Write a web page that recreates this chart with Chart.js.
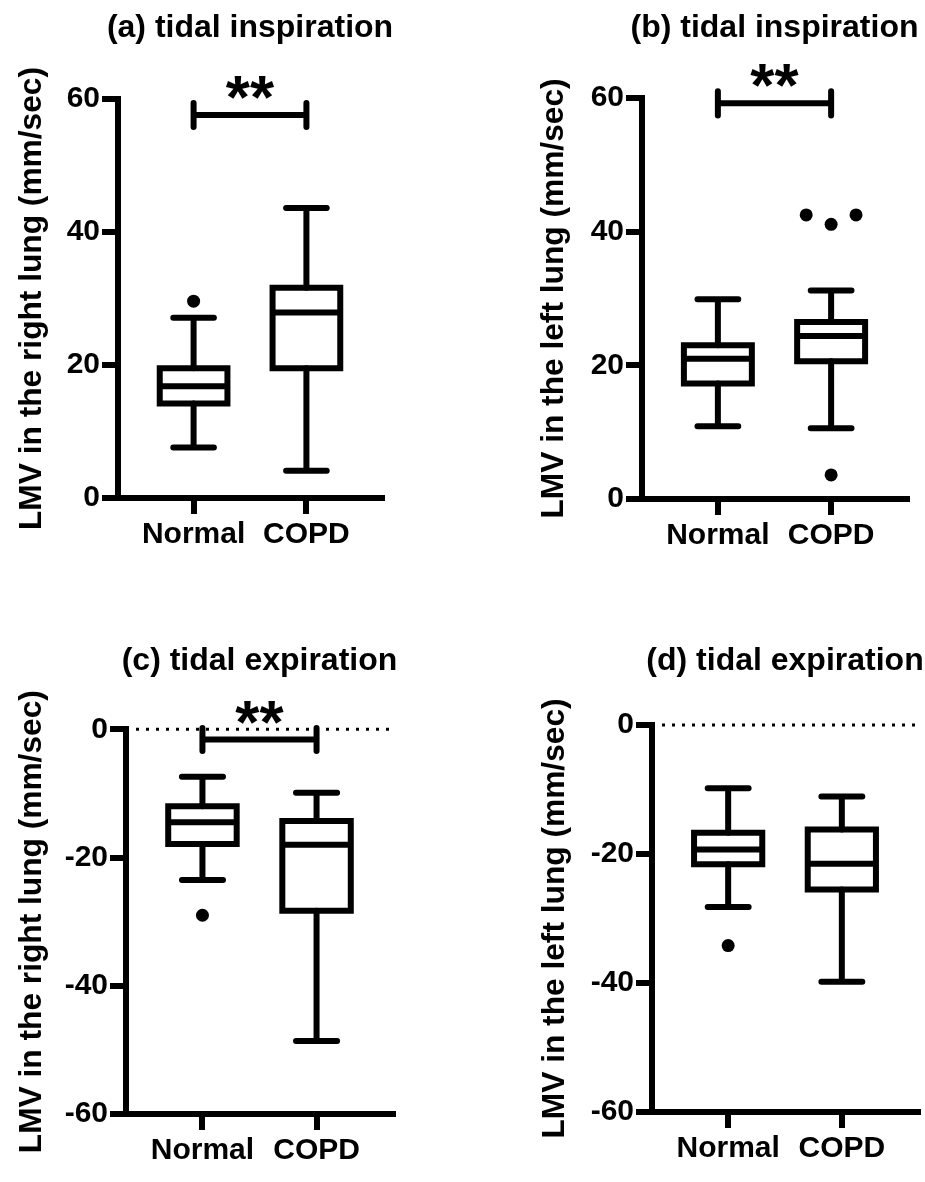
<!DOCTYPE html>
<html>
<head>
<meta charset="utf-8">
<script src="https://cdn.jsdelivr.net/npm/chart.js@4.4.1/dist/chart.umd.min.js"></script>
<style>
  html, body { margin: 0; padding: 0; background: #fff; overflow: hidden; }
  body { position: relative; width: 925px; height: 1182px; }
  canvas { position: absolute; }
</style>
</head>
<body>
<!-- canvases are as wide as needed so the panel title centres over the plot area -->
<canvas id="panelA" width="500" height="591" style="left:0;top:0"></canvas>
<canvas id="panelB" width="549" height="591" style="left:500px;top:0"></canvas>
<canvas id="panelC" width="519" height="591" style="left:0;top:591px"></canvas>
<canvas id="panelD" width="570" height="591" style="left:500px;top:591px"></canvas>
<script>
// Box plot data
const categories = ['Normal', 'COPD'];

// per group: [whisker low, Q1, median, Q3, whisker high]
const rightInspiration = [[7.6, 14.2, 16.8, 19.5, 27.1], [4.1, 19.5, 27.9, 31.6, 43.6]];
const leftInspiration = [[10.9, 17.3, 21.0, 23.0, 29.9], [10.6, 20.6, 24.4, 26.5, 31.2]];
const rightExpiration = [[-23.5, -17.9, -14.5, -12.0, -7.4], [-48.6, -28.3, -18.0, -14.3, -9.9]];
const leftExpiration = [[-28.2, -21.6, -19.3, -16.7, -9.8], [-39.8, -25.5, -21.5, -16.2, -11.1]];

// outliers per group
const rightInspirationOutliers = [[29.6], []];
const leftInspirationOutliers = [[], [42.5, 41.1, 42.5, 3.6]];
const rightExpirationOutliers = [[-29.0], []];
const leftExpirationOutliers = [[-34.2], []];

// significance bracket level per panel (null = none)
const sigLevels = [57.6, 59.2, -1.6, null];
const sigLabels = ['**', '**', '**', ''];

const yTicksInspiration = [0, 20, 40, 60];
const yTicksExpiration = [-60, -40, -20, 0];

const panelTitles = ['(a) tidal inspiration', '(b) tidal inspiration', '(c) tidal expiration', '(d) tidal expiration'];
const yTitles = ['LMV in the right lung (mm/sec)', 'LMV in the left lung (mm/sec)',
                 'LMV in the right lung (mm/sec)', 'LMV in the left lung (mm/sec)'];

// geometry in x-axis units (groups sit at 1 and 2)
const X_MIN = 0.33;
const X_MAX = 2.67;
const BOX_HALF = 0.30;
const CAP_HALF = 0.18;
const DOT_SPREAD = 0.22;
const SIG_TICK = 1.8;
const LINE_W = 6;
const FONT = "'Liberation Sans', Arial, Helvetica, sans-serif";

Chart.defaults.font.family = FONT;
Chart.defaults.color = '#000';

function gap(x) {
    return {x: x, y: null};
}

function boxPoints(stats) {
    const pts = [];
    stats.forEach((s, i) => {
        const x = i + 1;
        const q1 = s[1], med = s[2], q3 = s[3];
        pts.push({x: x - BOX_HALF, y: q1}, {x: x + BOX_HALF, y: q1}, {x: x + BOX_HALF, y: q3},
                 {x: x - BOX_HALF, y: q3}, {x: x - BOX_HALF, y: q1}, gap(x));
        pts.push({x: x - BOX_HALF, y: med}, {x: x + BOX_HALF, y: med}, gap(x));
    });
    return pts;
}

function whiskerPoints(stats) {
    const pts = [];
    stats.forEach((s, i) => {
        const x = i + 1;
        const [lo, q1, , q3, hi] = s;
        pts.push({x: x, y: lo}, {x: x, y: q1}, gap(x));
        pts.push({x: x, y: q3}, {x: x, y: hi}, gap(x));
        pts.push({x: x - CAP_HALF, y: lo}, {x: x + CAP_HALF, y: lo}, gap(x));
        pts.push({x: x - CAP_HALF, y: hi}, {x: x + CAP_HALF, y: hi}, gap(x));
    });
    return pts;
}

// spread overlapping outliers side by side, like Prism does
function outlierPoints(groups) {
    const pts = [];
    groups.forEach((values, i) => {
        const used = values.map(() => false);
        values.forEach((v, k) => {
            if (used[k]) return;
            const cluster = [];
            values.forEach((w, j) => {
                if (!used[j] && Math.abs(w - v) < 2.5) {
                    cluster.push(j);
                    used[j] = true;
                }
            });
            cluster.forEach((j, n) => {
                pts.push({x: i + 1 + (n - (cluster.length - 1) / 2) * DOT_SPREAD, y: values[j]});
            });
        });
    });
    return pts;
}

function sigPoints(level) {
    if (level === null) return [];
    return [
        {x: 1, y: level + SIG_TICK}, {x: 1, y: level - SIG_TICK}, gap(1),
        {x: 1, y: level}, {x: 2, y: level}, gap(2),
        {x: 2, y: level + SIG_TICK}, {x: 2, y: level - SIG_TICK}
    ];
}

// draws the "**" above the significance bracket
const sigStarPlugin = {
    id: 'sigStars',
    afterDatasetsDraw(chart, args, opts) {
        if (!opts.text) return;
        const {ctx, scales} = chart;
        ctx.save();
        ctx.font = 'bold 62px ' + FONT;
        ctx.fillStyle = '#000';
        ctx.textAlign = 'center';
        ctx.textBaseline = 'alphabetic';
        ctx.fillText(opts.text, scales.x.getPixelForValue(1.5), scales.y.getPixelForValue(opts.level) + opts.shift);
        ctx.restore();
    }
};

function makePanel(id, idx, stats, outliers, yTicks, lay) {
    const datasets = [];
    if (yTicks[yTicks.length - 1] === 0) {
        datasets.push({
            data: [{x: X_MIN, y: 0}, {x: X_MAX, y: 0}],
            borderColor: '#000',
            borderWidth: 3,
            borderDash: [3, 7],
            pointRadius: 0,
            order: 5
        });
    }
    datasets.push({
        data: whiskerPoints(stats),
        borderColor: '#000',
        borderWidth: LINE_W,
        borderCapStyle: 'round',
        pointRadius: 0,
        order: 4
    });
    datasets.push({
        data: boxPoints(stats),
        borderColor: '#000',
        borderWidth: LINE_W,
        borderCapStyle: 'square',
        borderJoinStyle: 'miter',
        pointRadius: 0,
        order: 3
    });
    datasets.push({
        data: sigPoints(sigLevels[idx]),
        borderColor: '#000',
        borderWidth: LINE_W,
        borderCapStyle: 'round',
        pointRadius: 0,
        order: 2
    });
    datasets.push({
        data: outlierPoints(outliers),
        showLine: false,
        pointRadius: 6.5,
        pointBorderWidth: 0,
        pointBackgroundColor: '#000',
        pointBorderColor: '#000',
        order: 1
    });
    datasets.forEach(d => {
        d.clip = false;
        d.spanGaps = false;
        d.tension = 0;
    });

    new Chart(document.getElementById(id), {
        type: 'line',
        data: {datasets: datasets},
        plugins: [sigStarPlugin],
        options: {
            responsive: false,
            animation: false,
            events: [],
            layout: {
                padding: 0
            },
            plugins: {
                legend: {display: false},
                tooltip: {enabled: false},
                title: {
                    display: true,
                    text: panelTitles[idx],
                    color: '#000',
                    font: {size: 32, weight: 'bold', lineHeight: 1.2},
                    padding: {top: lay.titleTop, bottom: lay.titleBottom}
                },
                sigStars: {
                    text: sigLabels[idx],
                    level: sigLevels[idx],
                    shift: 3
                }
            },
            scales: {
                x: {
                    type: 'linear',
                    min: X_MIN,
                    max: X_MAX,
                    afterBuildTicks: scale => {
                        scale.ticks = categories.map((c, i) => ({value: i + 1}));
                    },
                    afterFit: scale => {
                        scale.height = lay.xHeight;
                    },
                    ticks: {
                        callback: v => categories[v - 1],
                        font: {size: 30, weight: 'bold'},
                        color: '#000',
                        padding: 3,
                        maxRotation: 0
                    },
                    grid: {
                        display: true,
                        drawOnChartArea: false,
                        tickLength: 16,
                        tickWidth: LINE_W,
                        tickColor: '#000',
                        lineWidth: LINE_W
                    },
                    border: {display: true, color: '#000', width: LINE_W}
                },
                y: {
                    type: 'linear',
                    min: yTicks[0],
                    max: yTicks[yTicks.length - 1],
                    afterBuildTicks: scale => {
                        scale.ticks = yTicks.map(v => ({value: v}));
                    },
                    afterFit: scale => {
                        scale.width = lay.yWidth;
                    },
                    ticks: {
                        font: {size: 30, weight: 'bold'},
                        color: '#000',
                        padding: 2
                    },
                    grid: {
                        display: true,
                        drawOnChartArea: false,
                        tickLength: 16,
                        tickWidth: LINE_W,
                        tickColor: '#000',
                        lineWidth: LINE_W
                    },
                    border: {display: true, color: '#000', width: LINE_W},
                    title: {
                        display: true,
                        text: yTitles[idx],
                        color: '#000',
                        font: {size: 31.7, weight: 'bold', lineHeight: 1.2},
                        padding: {top: lay.yTitlePad, bottom: 0}
                    }
                },
                // empty right-hand axis, same width as the left one, keeps the title centred on the plot
                ySpacer: {
                    type: 'linear',
                    position: 'right',
                    display: true,
                    afterFit: scale => {
                        scale.width = lay.yWidth;
                    },
                    ticks: {display: false},
                    grid: {display: false},
                    border: {display: false}
                }
            }
        }
    });
}

makePanel('panelA', 0, rightInspiration, rightInspirationOutliers, yTicksInspiration,
    {yWidth: 118, xHeight: 93, titleTop: 8.8, titleBottom: 51.8, yTitlePad: 13});
makePanel('panelB', 1, leftInspiration, leftInspirationOutliers, yTicksInspiration,
    {yWidth: 142, xHeight: 92, titleTop: 8.8, titleBottom: 50.8, yTitlePad: 35});
makePanel('panelC', 2, rightExpiration, rightExpirationOutliers, yTicksExpiration,
    {yWidth: 126, xHeight: 68, titleTop: 50.8, titleBottom: 49.1, yTitlePad: 13});
makePanel('panelD', 3, leftExpiration, leftExpirationOutliers, yTicksExpiration,
    {yWidth: 152, xHeight: 70, titleTop: 50.8, titleBottom: 44.8, yTitlePad: 36});
</script>
</body>
</html>
